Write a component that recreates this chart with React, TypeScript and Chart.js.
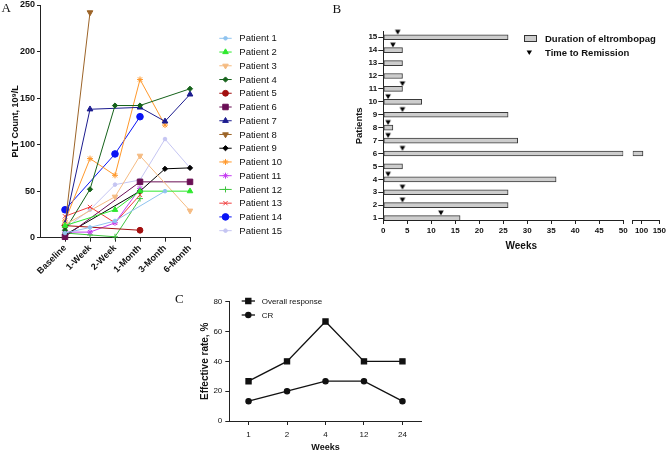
import React, { useEffect, useRef } from 'react';
import { Chart, registerables } from 'chart.js';
import { drawPoint } from 'chart.js/helpers';

Chart.register(...registerables);

const FONT = "'Liberation Sans', Arial, Helvetica, sans-serif";
Chart.defaults.font.family = FONT;
Chart.defaults.color = '#111';

// ---------------- Panel A data ----------------
const timeLabels = ['Baseline', '1-Week', '2-Week', '1-Month', '3-Month', '6-Month'];
const patientLabels = [
  'Patient 1', 'Patient 2', 'Patient 3', 'Patient 4', 'Patient 5',
  'Patient 6', 'Patient 7', 'Patient 8', 'Patient 9', 'Patient 10',
  'Patient 11', 'Patient 12', 'Patient 13', 'Patient 14', 'Patient 15',
];
const patient1 = [5, 11, 18, null, 50, null];
const patient2 = [13, null, 30, 50, null, 50];
const patient3 = [14, null, 44, 88, null, 29];
const patient4 = [8, 52, 142, 142, null, 160];
const patient5 = [13, null, null, 8, null, null];
const patient6 = [1, null, null, 60, null, 60];
const patient7 = [15, 138, null, 140, 125, 154];
const patient8 = [13, 242, null, null, null, null];
const patient9 = [3, null, null, 50, 74, 75];
const patient10 = [18, 85, 67, 170, 121, null];
const patient11 = [6, 6, 16, 53, null, null];
const patient12 = [5, 3, 1, 42, null, null];
const patient13 = [23, 33, 16, 46, null, null];
const patient14 = [30, null, 90, 130, null, null];
const patient15 = [10, 30, 57, 62, 106, 75];
const pltSeries = [
  patient1, patient2, patient3, patient4, patient5, patient6, patient7, patient8,
  patient9, patient10, patient11, patient12, patient13, patient14, patient15,
];
const pltTicks = [0, 50, 100, 150, 200, 250];

const seriesStyles = [
  { color: '#8fc3ef', style: 'circle', r: 1.8, rot: 0 },
  { color: '#2ee82e', style: 'triangle', r: 3.2, rot: 0 },
  { color: '#f5bb82', style: 'triangle', r: 3.2, rot: 180 },
  { color: '#15621a', style: 'rectRot', r: 2.6, rot: 0 },
  { color: '#a30f0f', style: 'circle', r: 2.9, rot: 0 },
  { color: '#6a0f55', style: 'rect', r: 3.9, rot: 0 },
  { color: '#1c1c8f', style: 'triangle', r: 3.3, rot: 0 },
  { color: '#9c6428', style: 'triangle', r: 3.3, rot: 180 },
  { color: '#000000', style: 'rectRot', r: 2.6, rot: 0 },
  { color: '#ff982b', style: 'star', r: 3, rot: 0 },
  { color: '#c43df0', style: 'star', r: 3, rot: 0 },
  { color: '#3ec43e', style: 'cross', r: 3, rot: 0 },
  { color: '#f03c3c', style: 'crossRot', r: 3, rot: 0 },
  { color: '#0a14f5', style: 'circle', r: 3.3, rot: 0 },
  { color: '#c5c5f2', style: 'circle', r: 1.8, rot: 0 },
];

// ---------------- Panel B data ----------------
const patientNumbers = [1, 2, 3, 4, 5, 6, 7, 8, 9, 10, 11, 12, 13, 14, 15];
const durationWeeks = [16, 26, 26, 36, 4, 104, 28, 2, 26, 8, 4, 4, 4, 4, 26];
const remissionWeeks = [12, 4, 4, 1, null, 4, 1, 1, 4, 1, 4, null, null, 2, 3];
const weeksLowMax = 50;
const weeksHighMin = 75;
const weeksHighMax = 150;
const weeksHighTicks = [75, 100, 150];

// ---------------- Panel C data ----------------
const rateWeeks = ['1', '2', '4', '12', '24'];
const overallResponse = [26.7, 40, 66.7, 40, 40];
const completeResponse = [13.3, 20, 26.7, 26.7, 13.3];

const axisColor = '#222';

function PanelA() {
  const ref = useRef<HTMLCanvasElement>(null);
  useEffect(() => {
    const legendPlugin = {
      id: 'legendA',
      afterDraw(chart: any) {
        const ctx = chart.ctx;
        ctx.save();
        chart.data.datasets.forEach((ds: any, i: number) => {
          const y = 38.3 + i * 13.74;
          ctx.strokeStyle = ds.borderColor;
          ctx.lineWidth = 1;
          ctx.beginPath();
          ctx.moveTo(219.3, y);
          ctx.lineTo(231.7, y);
          ctx.stroke();
          ctx.fillStyle = ds.backgroundColor;
          ctx.strokeStyle = ds.borderColor;
          drawPoint(ctx, { pointStyle: ds.pointStyle, rotation: ds.pointRotation, radius: ds.pointRadius, borderWidth: 1 } as any, 225.5, y);
          ctx.fillStyle = '#111';
          ctx.font = `9.5px ${FONT}`;
          ctx.textBaseline = 'middle';
          ctx.textAlign = 'left';
          ctx.fillText(ds.label, 239.3, y + 0.5);
        });
        ctx.restore();
      },
    };
    const chart = new Chart(ref.current!, {
      type: 'line',
      data: {
        datasets: pltSeries.map((vals, i) => {
          const st = seriesStyles[i];
          return {
            label: patientLabels[i],
            data: vals
              .map((v, k) => (v == null ? null : { x: k, y: v }))
              .filter((p) => p !== null) as any,
            borderColor: st.color,
            backgroundColor: st.color,
            pointStyle: st.style as any,
            pointRadius: st.r,
            pointRotation: st.rot,
            pointBorderWidth: 1,
            borderWidth: 1,
            tension: 0,
            clip: false as any,
          };
        }),
      },
      options: {
        responsive: false,
        animation: false,
        devicePixelRatio: 1,
        layout: { padding: { top: 4.7, right: 140, left: 0, bottom: 0 } },
        plugins: { legend: { display: false }, tooltip: { enabled: false } },
        scales: {
          x: {
            type: 'linear',
            min: -1,
            max: timeLabels.length - 1,
            offset: false,
            afterBuildTicks: (s: any) => {
              s.ticks = timeLabels.map((_, i) => ({ value: i }));
            },
            ticks: {
              callback: (v: any) => timeLabels[v] ?? '',
              minRotation: 45,
              maxRotation: 45,
              autoSkip: false,
              font: { size: 9, weight: 'bold' },
              color: '#111',
              padding: 1,
            },
            grid: { drawOnChartArea: false, offset: false, tickLength: 4, color: axisColor },
            border: { color: axisColor },
            afterFit: (s: any) => {
              s.height = 280 - 237.7;
              s.paddingLeft = 0;
              s.paddingRight = 0;
            },
          },
          y: {
            type: 'linear',
            min: 0,
            max: 250,
            afterBuildTicks: (s: any) => {
              s.ticks = pltTicks.map((v) => ({ value: v }));
            },
            ticks: { font: { size: 9, weight: 'bold' }, color: '#111', padding: 2 },
            grid: { drawOnChartArea: false, tickLength: 3, color: axisColor },
            border: { color: axisColor },
            title: {
              display: true,
              text: 'PLT Count, 10\u2079/L',
              font: { size: 9, weight: 'bold' },
              color: '#111',
              padding: { top: 10, bottom: 0 },
            },
            afterFit: (s: any) => {
              s.width = 40;
              s.paddingTop = 0;
              s.paddingBottom = 0;
            },
          },
        },
      } as any,
      plugins: [legendPlugin],
    });
    return () => chart.destroy();
  }, []);
  return (
    <canvas ref={ref} width={330} height={280}
      style={{ position: 'absolute', left: 0, top: 0, width: 330, height: 280 }} />
  );
}

const barStyleB = {
  backgroundColor: '#cdcdcd',
  borderColor: '#3a3a3a',
  borderWidth: 1,
  borderSkipped: false,
  barThickness: 5,
  grouped: false,
};
const tickFontB = { size: 8, weight: 'bold' };
const yRangeB = { min: 0.85, max: 15.43 };

// Panel B, left part of the broken axis (0-50 weeks), with the y axis and legend
function PanelB() {
  const ref = useRef<HTMLCanvasElement>(null);
  useEffect(() => {
    const tri = document.createElement('canvas');
    tri.width = 8;
    tri.height = 24;
    const tctx = tri.getContext('2d')!;
    tctx.fillStyle = '#000';
    tctx.beginPath();
    tctx.moveTo(1.2, 4.6);
    tctx.lineTo(6.8, 4.6);
    tctx.lineTo(4, 9.2);
    tctx.closePath();
    tctx.fill();

    const extraPlugin = {
      id: 'extrasB',
      afterDraw(chart: any) {
        const ctx = chart.ctx;
        const ds = chart.data.datasets;
        ctx.save();
        ctx.fillStyle = '#cdcdcd';
        ctx.fillRect(194.5, 35.5, 12, 6);
        ctx.strokeStyle = '#333';
        ctx.lineWidth = 1;
        ctx.strokeRect(194.5, 35.5, 12, 6);
        ctx.fillStyle = '#000';
        ctx.beginPath();
        ctx.moveTo(196.6, 50.6);
        ctx.lineTo(202.0, 50.6);
        ctx.lineTo(199.3, 55.0);
        ctx.closePath();
        ctx.fill();
        ctx.fillStyle = '#111';
        ctx.font = `bold 9.5px ${FONT}`;
        ctx.textBaseline = 'middle';
        ctx.textAlign = 'left';
        ctx.fillText(ds[0].label, 215, 39);
        ctx.fillText(ds[1].label, 215, 53);
        // x-axis title centred under both parts of the broken axis
        ctx.font = `bold 10px ${FONT}`;
        ctx.textAlign = 'center';
        ctx.fillText('Weeks', (53.3 + 329.3) / 2, 246.7);
        ctx.restore();
      },
    };

    const chart = new Chart(ref.current!, {
      type: 'bar',
      data: {
        datasets: [
          {
            type: 'bar',
            label: 'Duration of eltrombopag',
            data: patientNumbers.map((p, i) => ({ y: p, x: Math.min(durationWeeks[i], weeksLowMax) })),
            ...barStyleB,
          },
          {
            type: 'scatter',
            label: 'Time to Remission',
            data: patientNumbers
              .map((p, i) => (remissionWeeks[i] == null ? null : { x: remissionWeeks[i], y: p }))
              .filter((d) => d !== null),
            pointStyle: tri,
            pointRadius: 4,
            clip: false,
          },
        ] as any,
      },
      options: {
        indexAxis: 'y',
        responsive: false,
        animation: false,
        devicePixelRatio: 1,
        layout: { padding: { top: 31.7, right: 339 - 293.3, left: 0, bottom: 0 } },
        plugins: { legend: { display: false }, tooltip: { enabled: false } },
        scales: {
          x: {
            type: 'linear',
            min: 0,
            max: weeksLowMax,
            offset: false,
            ticks: { stepSize: 5, autoSkip: false, maxRotation: 0, font: tickFontB, color: '#111', padding: 2 },
            grid: { drawOnChartArea: false, offset: false, tickLength: 4, color: axisColor },
            border: { color: axisColor },
            afterFit: (s: any) => {
              s.height = 40;
              s.paddingLeft = 0;
              s.paddingRight = 0;
            },
          },
          y: {
            type: 'linear',
            position: 'left',
            ...yRangeB,
            offset: false,
            afterBuildTicks: (s: any) => {
              s.ticks = patientNumbers.map((v) => ({ value: v }));
            },
            ticks: { font: tickFontB, color: '#111', padding: 1 },
            grid: { drawOnChartArea: false, offset: false, tickLength: 5, color: axisColor },
            border: { color: axisColor },
            title: {
              display: true,
              text: 'Patients',
              font: { size: 9.5, weight: 'bold' },
              color: '#111',
              padding: { top: 24, bottom: 0 },
            },
            afterFit: (s: any) => {
              s.width = 53.3;
              s.paddingTop = 0;
              s.paddingBottom = 0;
            },
          },
        },
      } as any,
      plugins: [extraPlugin],
    });
    return () => chart.destroy();
  }, []);
  return (
    <canvas ref={ref} width={339} height={260}
      style={{ position: 'absolute', left: 330, top: 0, width: 339, height: 260 }} />
  );
}

// Panel B, right part of the broken axis (75-150 weeks)
function PanelBBreak() {
  const ref = useRef<HTMLCanvasElement>(null);
  useEffect(() => {
    const chart = new Chart(ref.current!, {
      type: 'bar',
      data: {
        datasets: [
          {
            type: 'bar',
            label: 'Duration of eltrombopag',
            data: patientNumbers
              .filter((_, i) => durationWeeks[i] > weeksLowMax)
              .map((p) => ({ y: p, x: [weeksHighMin, durationWeeks[p - 1]] })),
            ...barStyleB,
          },
        ] as any,
      },
      options: {
        indexAxis: 'y',
        responsive: false,
        animation: false,
        devicePixelRatio: 1,
        layout: { padding: { top: 31.7, right: 44 - 34.3, left: 7.7, bottom: 0 } },
        plugins: { legend: { display: false }, tooltip: { enabled: false } },
        scales: {
          x: {
            type: 'linear',
            min: weeksHighMin,
            max: weeksHighMax,
            offset: false,
            afterBuildTicks: (s: any) => {
              s.ticks = weeksHighTicks.map((v) => ({ value: v }));
            },
            ticks: {
              callback: (v: any) => (v === weeksHighMin ? '' : String(v)),
              autoSkip: false,
              maxRotation: 0,
              font: tickFontB,
              color: '#111',
              padding: 2,
            },
            grid: { drawOnChartArea: false, offset: false, tickLength: 4, color: axisColor },
            border: { color: axisColor },
            afterFit: (s: any) => {
              s.height = 40;
              s.paddingLeft = 0;
              s.paddingRight = 0;
            },
          },
          y: {
            type: 'linear',
            display: false,
            ...yRangeB,
            offset: false,
          },
        },
      } as any,
    });
    return () => chart.destroy();
  }, []);
  return (
    <canvas ref={ref} width={44} height={260}
      style={{ position: 'absolute', left: 625, top: 0, width: 44, height: 260 }} />
  );
}

function PanelC() {
  const ref = useRef<HTMLCanvasElement>(null);
  useEffect(() => {
    const legendPlugin = {
      id: 'legendC',
      afterDraw(chart: any) {
        const ctx = chart.ctx;
        ctx.save();
        chart.data.datasets.forEach((ds: any, i: number) => {
          const y = 16 + i * 14;
          ctx.strokeStyle = ds.borderColor;
          ctx.lineWidth = 1.3;
          ctx.beginPath();
          ctx.moveTo(61.7, y);
          ctx.lineTo(75, y);
          ctx.stroke();
          ctx.fillStyle = ds.backgroundColor;
          drawPoint(ctx, { pointStyle: ds.pointStyle, rotation: 0, radius: ds.pointRadius, borderWidth: 1 } as any, 68.3, y);
          ctx.fillStyle = '#111';
          ctx.font = `8px ${FONT}`;
          ctx.textBaseline = 'middle';
          ctx.textAlign = 'left';
          ctx.fillText(ds.label, 81.7, y + 0.5);
        });
        ctx.restore();
      },
    };
    const chart = new Chart(ref.current!, {
      type: 'line',
      data: {
        labels: rateWeeks,
        datasets: [
          {
            label: 'Overall response',
            data: overallResponse,
            borderColor: '#111',
            backgroundColor: '#111',
            pointStyle: 'rect',
            pointRadius: 3.6,
            borderWidth: 1.3,
            clip: false as any,
          },
          {
            label: 'CR',
            data: completeResponse,
            borderColor: '#111',
            backgroundColor: '#111',
            pointStyle: 'circle',
            pointRadius: 2.6,
            borderWidth: 1.3,
            clip: false as any,
          },
        ],
      },
      options: {
        responsive: false,
        animation: false,
        devicePixelRatio: 1,
        layout: { padding: { top: 16.7, right: 18.3, left: 0, bottom: 0 } },
        plugins: { legend: { display: false }, tooltip: { enabled: false } },
        scales: {
          x: {
            offset: true,
            grid: { drawOnChartArea: false, offset: false, tickLength: 4, color: axisColor },
            border: { color: axisColor },
            ticks: { font: { size: 8 }, color: '#111', padding: 5 },
            title: {
              display: true,
              text: 'Weeks',
              font: { size: 9, weight: 'bold' },
              color: '#111',
              padding: { top: 0, bottom: 1 },
            },
            afterFit: (s: any) => {
              s.height = 33;
            },
          },
          y: {
            min: 0,
            max: 80,
            ticks: { stepSize: 20, font: { size: 8 }, color: '#111', padding: 3 },
            grid: { drawOnChartArea: false, tickLength: 4, color: axisColor },
            border: { color: axisColor },
            title: {
              display: true,
              text: 'Effective rate, %',
              font: { size: 10, weight: 'bold' },
              color: '#111',
              padding: { top: 19, bottom: 0 },
            },
            afterFit: (s: any) => {
              s.width = 49.3;
              s.paddingTop = 0;
              s.paddingBottom = 0;
            },
          },
        },
      } as any,
      plugins: [legendPlugin],
    });
    return () => chart.destroy();
  }, []);
  return (
    <canvas ref={ref} width={260} height={169}
      style={{ position: 'absolute', left: 180, top: 285, width: 260, height: 169 }} />
  );
}

const letterStyle: React.CSSProperties = {
  position: 'absolute',
  font: "13px 'Liberation Serif', 'Times New Roman', serif",
  lineHeight: '13px',
  color: '#111',
};

export default function App() {
  return (
    <div style={{ position: 'fixed', left: 0, top: 0, width: 669, height: 454, background: '#fff', overflow: 'hidden' }}>
      <PanelA />
      <PanelB />
      <PanelBBreak />
      <PanelC />
      <div style={{ ...letterStyle, left: 1.5, top: 0.8 }}>A</div>
      <div style={{ ...letterStyle, left: 332.5, top: 1.8 }}>B</div>
      <div style={{ ...letterStyle, left: 175, top: 292 }}>C</div>
    </div>
  );
}
